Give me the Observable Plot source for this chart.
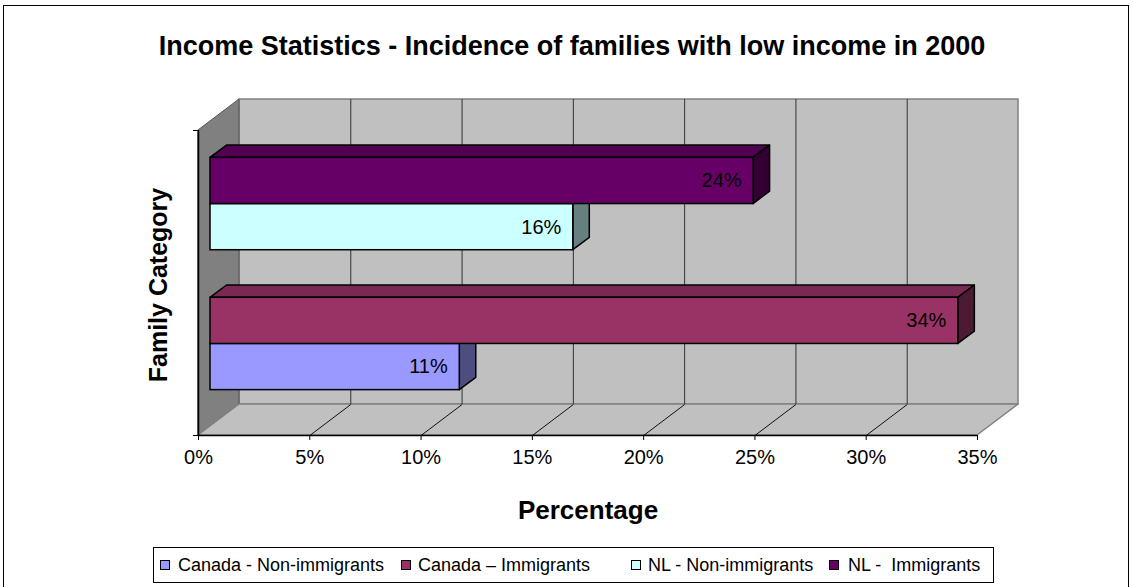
<!DOCTYPE html>
<html><head><meta charset="utf-8">
<script src="https://cdn.jsdelivr.net/npm/d3@7"></script>
<script src="https://cdn.jsdelivr.net/npm/@observablehq/plot@0.6"></script>
<style>
body{margin:0;background:#fff;font-family:"Liberation Sans",Arial,sans-serif;}
#wrap{position:relative;width:1133px;height:587px;overflow:hidden;background:#fff;}
#border{position:absolute;left:3px;top:5px;width:1126px;height:620px;border:1px solid #000;box-sizing:border-box;}
#chart{position:absolute;left:0;top:0;}
#legend{position:absolute;left:153px;top:547px;width:841px;height:36px;border:1px solid #000;box-sizing:border-box;background:#fff;}
.item{position:absolute;top:0;height:34px;display:flex;align-items:center;font-size:18px;white-space:pre;color:#000;}
.sw{width:8px;height:8px;border:1px solid #000;margin-right:8px;}
</style>
</head><body>
<div id="wrap">
<div id="border"></div>
<div id="chart"></div>
<div id="legend"></div>
</div>
<script>
// ---- data ----
const groups = ["Canada", "NL"];
const series = ["Canada - Non-immigrants", "Canada – Immigrants", "NL - Non-immigrants", "NL -  Immigrants"];
const seriesGroup = ["Canada", "Canada", "NL", "NL"];
const seriesKind = ["non", "imm", "non", "imm"];
const values = [11.2, 33.6, 16.3, 24.4];
const valueLabels = ["11%", "34%", "16%", "24%"];
const colors = ["#9999FF", "#993366", "#CCFFFF", "#660066"];
const xTicks = [0, 5, 10, 15, 20, 25, 30, 35];
const title = "Income Statistics - Incidence of families with low income in 2000";
const xTitle = "Percentage";
const yTitle = "Family Category";

// ---- layout ----
const W = 1133, H = 587;
const mL = 198, mR = 156, mT = 130, mB = 152;
const xMax = 35, yMax = 2;
const kx = (W - mL - mR) / xMax;      // px per percent
const ky = (H - mT - mB) / yMax;      // px per category unit
const wallPx = {x: 41, y: 31};        // full depth of the 3D box
const barFrontPx = {x: 12, y: 9};     // depth of bar front face
const barDepthPx = {x: 16.5, y: 12.3};// thickness of bar
const D = {x: wallPx.x / kx, y: wallPx.y / ky};
const B = {x: barDepthPx.x / kx, y: barDepthPx.y / ky};

const shade = (c, f) => { const r = d3.rgb(c); return d3.rgb(r.r * f, r.g * f, r.b * f).formatHex(); };

const band = d3.scaleBand().domain(groups).range([0, yMax]).paddingInner(0.34).paddingOuter(0.26);
const half = band.bandwidth() / 2;

const bars = series.map((s, i) => {
  const y1 = band(seriesGroup[i]) + (seriesKind[i] === "imm" ? half : 0);
  return {series: s, kind: seriesKind[i], value: values[i], label: valueLabels[i], color: colors[i], y1, y2: y1 + half};
});
const order = [...bars.filter(d => d.kind === "non"), ...bars.filter(d => d.kind === "imm")];

const tops = order.flatMap(d => [
  {series: d.series, y: d.y2, x1: 0, x2: d.value, fill: shade(d.color, 0.8)},
  {series: d.series, y: d.y2 + B.y, x1: B.x, x2: d.value + B.x, fill: shade(d.color, 0.8)}
]);
const sides = order.flatMap(d => [
  {series: d.series, x: d.value, y1: d.y1, y2: d.y2, fill: shade(d.color, 0.5)},
  {series: d.series, x: d.value + B.x, y1: d.y1 + B.y, y2: d.y2 + B.y, fill: shade(d.color, 0.5)}
]);

const inner = xTicks.slice(1, -1);
const bfx = barFrontPx.x, bfy = -barFrontPx.y;

const barMarks = (subset) => {
  const names = new Set(subset.map(d => d.series));
  return [
    Plot.areaX(tops.filter(d => names.has(d.series)), {y: "y", x1: "x1", x2: "x2", z: "series", fill: "fill", stroke: "#000", strokeWidth: 1.5, strokeLinejoin: "round", dx: bfx, dy: bfy}),
    Plot.areaY(sides.filter(d => names.has(d.series)), {x: "x", y1: "y1", y2: "y2", z: "series", fill: "fill", stroke: "#000", strokeWidth: 1.5, strokeLinejoin: "round", dx: bfx, dy: bfy}),
    Plot.rect(subset, {x1: 0, x2: "value", y1: "y1", y2: "y2", fill: "color", stroke: "#000", strokeWidth: 1.5, dx: bfx, dy: bfy})
  ];
};

const chart = Plot.plot({
  width: W, height: H,
  marginLeft: mL, marginRight: mR, marginTop: mT, marginBottom: mB,
  x: {domain: [0, xMax]},
  y: {domain: [0, yMax]},
  style: {fontFamily: "'Liberation Sans', Arial, sans-serif", fontSize: "20px", background: "transparent", overflow: "visible", color: "#000"},
  marks: [
    // back wall
    Plot.rect([0], {x1: D.x, x2: xMax + D.x, y1: D.y, y2: yMax + D.y, fill: "#C0C0C0", stroke: "#808080", strokeWidth: 1.5}),
    // side wall
    Plot.areaY([{x: 0, y1: 0, y2: yMax}, {x: D.x, y1: D.y, y2: yMax + D.y}], {x: "x", y1: "y1", y2: "y2", fill: "#808080", stroke: "#555", strokeWidth: 1}),
    // floor
    Plot.areaX([{y: 0, x1: 0, x2: xMax}, {y: D.y, x1: D.x, x2: xMax + D.x}], {y: "y", x1: "x1", x2: "x2", fill: "#C0C0C0", stroke: "#808080", strokeWidth: 1.5}),
    // back wall grid
    Plot.ruleX(inner, {x: d => d + D.x, y1: D.y, y2: yMax + D.y, stroke: "#333", strokeWidth: 1}),
    // floor grid
    Plot.link(inner, {x1: d => d, y1: 0, x2: d => d + D.x, y2: D.y, stroke: "#111", strokeWidth: 1}),
    // axes lines
    Plot.ruleY([0], {x1: 0, x2: xMax, stroke: "#000", strokeWidth: 1.5}),
    Plot.ruleX([0], {y1: 0, y2: yMax, stroke: "#000", strokeWidth: 1.5}),
    Plot.axisX(xTicks, {tickFormat: d => d + "%", tickSize: 5, tickPadding: 9, label: null, fontSize: 20}),
    Plot.axisY([0, yMax], {tickSize: 5, tickFormat: () => "", label: null}),
    // bars
    ...barMarks(order.filter(d => d.kind === "non")),
    ...barMarks(order.filter(d => d.kind === "imm")),
    // value labels
    Plot.text(bars, {x: "value", y: d => (d.y1 + d.y2) / 2, text: "label", textAnchor: "end", dx: 0, dy: bfy, fontSize: 20, fill: "#000"}),
    // titles
    Plot.text([title], {frameAnchor: "top", textAnchor: "middle", lineAnchor: "middle", dx: -16, dy: -84, fontSize: 27, fontWeight: "bold", fill: "#000"}),
    Plot.text([xTitle], {frameAnchor: "bottom", textAnchor: "middle", lineAnchor: "middle", dy: 75, fontSize: 26, fontWeight: "bold", fill: "#000"}),
    Plot.text([yTitle], {frameAnchor: "left", textAnchor: "middle", lineAnchor: "middle", dx: -40, dy: 2, rotate: -90, fontSize: 25, fontWeight: "bold", fill: "#000"})
  ]
});
document.getElementById("chart").appendChild(chart);

// legend
const legendX = [{sw: 6, tx: 24}, {sw: 247, tx: 264}, {sw: 477, tx: 494}, {sw: 675, tx: 694}];
const legend = document.getElementById("legend");
series.forEach((s, i) => {
  const it = document.createElement("div");
  it.className = "item";
  it.style.left = legendX[i].sw + "px";
  const sw = document.createElement("span");
  sw.className = "sw";
  sw.style.background = colors[i];
  sw.style.marginRight = (legendX[i].tx - legendX[i].sw - 10) + "px";
  const tx = document.createElement("span");
  tx.textContent = s;
  it.appendChild(sw); it.appendChild(tx);
  legend.appendChild(it);
});
</script>
</body></html>
